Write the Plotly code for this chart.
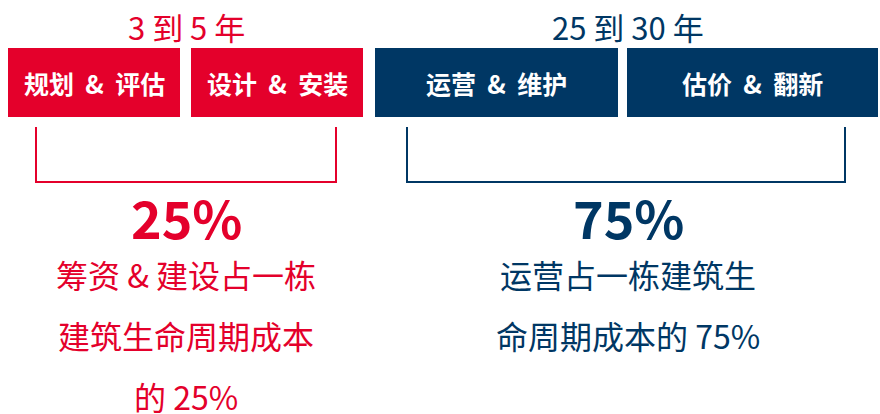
import plotly.graph_objects as go

# ---- data ----
phase_labels = ["规划 & 评估", "设计 & 安装", "运营 & 维护", "估价 & 翻新"]
phase_group = [0, 0, 1, 1]
group_durations = ["3 到 5 年", "25 到 30 年"]
group_shares = ["25%", "75%"]
group_desc = [["筹资 & 建设占一栋", "建筑生命周期成本", "的 25%"],
              ["运营占一栋建筑生", "命周期成本的 75%"]]

# ---- styling / layout ----
colors = ["#E4002B", "#003764"]
FONT = "Noto Sans CJK SC"
box_x = [(8, 180), (191, 363), (375, 618), (627, 878)]
box_y = (48, 117)
bracket_x = [(36, 336), (407, 845)]
bracket_y = (127, 182)
group_cx = [186, 628]

fig = go.Figure()
shapes = []
annotations = []

for i, lab in enumerate(phase_labels):
    x0, x1 = box_x[i]
    c = colors[phase_group[i]]
    shapes.append(dict(type="rect", x0=x0, x1=x1, y0=box_y[0], y1=box_y[1],
                       fillcolor=c, line=dict(width=0), layer="below"))
    annotations.append(dict(x=(x0 + x1) / 2, y=(box_y[0] + box_y[1]) / 2, text="<b>" + lab.replace(" ", "\u00a0 ") + "</b>",
                            showarrow=False, xanchor="center", yanchor="middle",
                            font=dict(family=FONT, size=25, color="white")))

for g in range(2):
    c = colors[g]
    bx0, bx1 = bracket_x[g]
    shapes.append(dict(type="path",
                       path=f"M {bx0} {bracket_y[0]} L {bx0} {bracket_y[1]} L {bx1} {bracket_y[1]} L {bx1} {bracket_y[0]}",
                       line=dict(color=c, width=2)))
    annotations.append(dict(x=group_cx[g], y=26, text=group_durations[g], showarrow=False,
                            xanchor="center", yanchor="middle",
                            font=dict(family=FONT, size=31, color=c)))
    annotations.append(dict(x=group_cx[g], y=216, text="<b>" + group_shares[g] + "</b>", showarrow=False,
                            xanchor="center", yanchor="middle",
                            font=dict(family=FONT, size=52, color=c)))
    for k, line in enumerate(group_desc[g]):
        annotations.append(dict(x=group_cx[g], y=274 + 61 * k, text=line, showarrow=False,
                                xanchor="center", yanchor="middle",
                                font=dict(family=FONT, size=32, color=c)))

fig.update_layout(
    width=880, height=414,
    margin=dict(l=0, r=0, t=0, b=0),
    paper_bgcolor="white", plot_bgcolor="white",
    xaxis=dict(range=[0, 880], visible=False, fixedrange=True),
    yaxis=dict(range=[414, 0], visible=False, fixedrange=True),
    shapes=shapes, annotations=annotations, showlegend=False,
)
fig.write_html("out.html", config={"displayModeBar": False},
               post_script="document.body.style.margin='0';document.body.style.overflow='hidden';")
